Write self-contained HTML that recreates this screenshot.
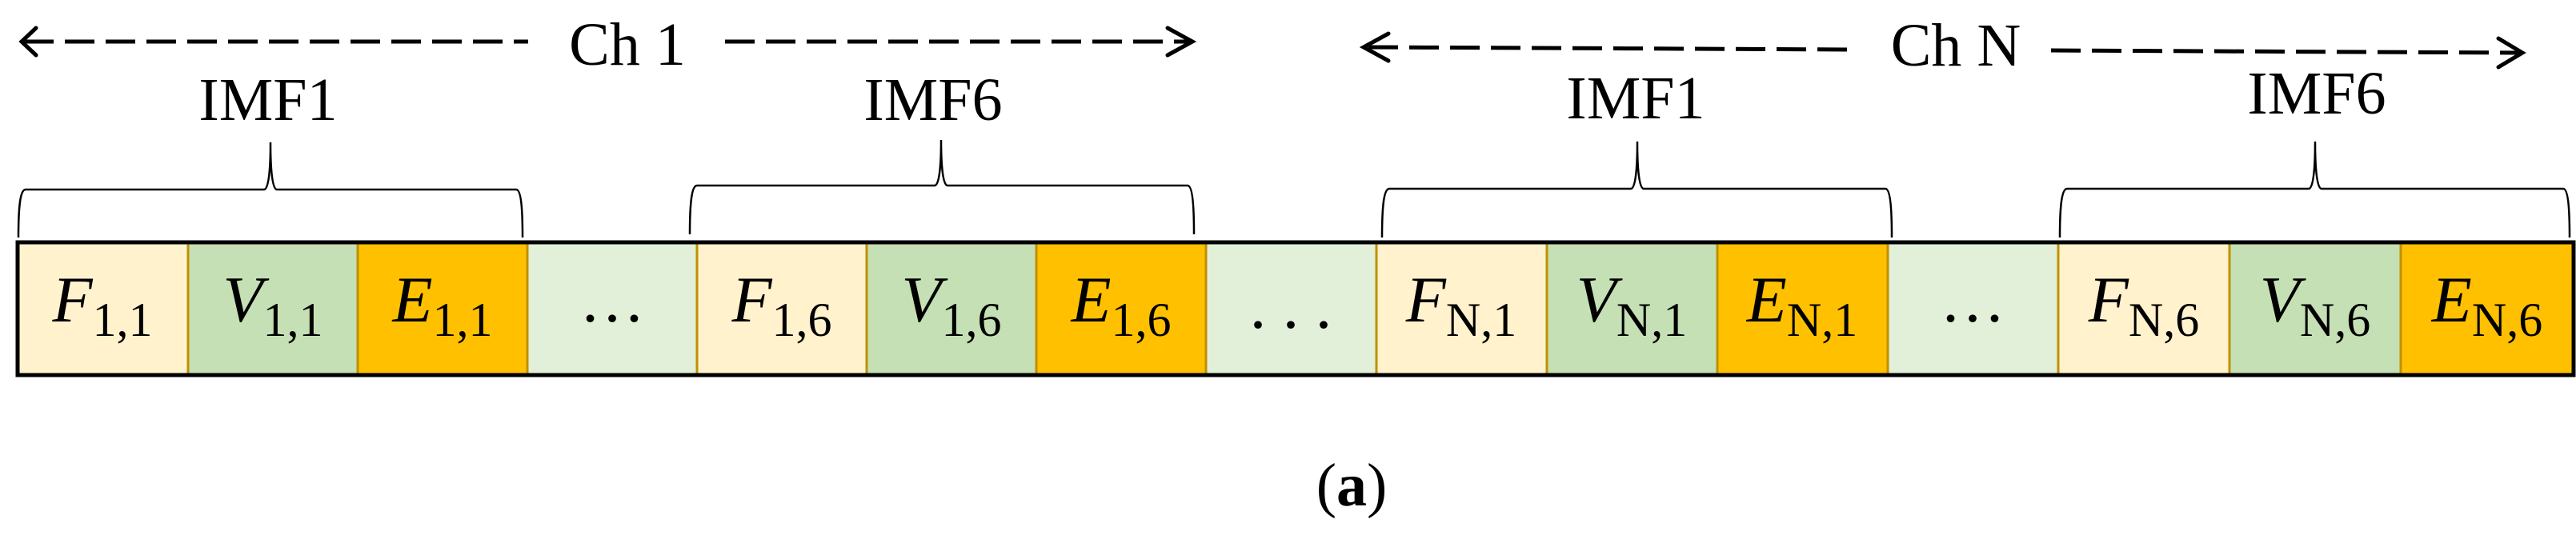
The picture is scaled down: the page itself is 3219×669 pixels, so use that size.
<!DOCTYPE html>
<html><head><meta charset="utf-8"><style>
html,body{margin:0;padding:0;background:#fff;}
svg{display:block;}
.t{font-family:"Liberation Serif",serif;fill:#000;}
</style></head><body>
<svg width="3219" height="669" viewBox="0 0 3219 669" xmlns="http://www.w3.org/2000/svg">
<g stroke="#000" stroke-width="5" fill="none">
  <line x1="30" y1="52" x2="660" y2="52" stroke-dasharray="37 14"/>
  <polyline points="45,35 27,52 45,69" stroke-linecap="round"/>
  <line x1="906" y1="52" x2="1486" y2="52" stroke-dasharray="37 14"/>
  <polyline points="1459,35 1490,52 1459,69" stroke-linecap="round"/>
  <line x1="1710" y1="59" x2="2320" y2="62" stroke-dasharray="37 14"/>
  <polyline points="1735,42 1704,59 1735,76" stroke-linecap="round"/>
  <line x1="2563" y1="63" x2="3148" y2="66" stroke-dasharray="37 14"/>
  <polyline points="3122,48 3152,66 3122,84" stroke-linecap="round"/>
</g>
<text class="t" x="784" y="81" font-size="76" text-anchor="middle">Ch 1</text>
<text class="t" x="2444" y="82" font-size="76" text-anchor="middle">Ch N</text>
<text class="t" x="335" y="150" font-size="76" text-anchor="middle">IMF1</text>
<text class="t" x="1166" y="150" font-size="76" text-anchor="middle">IMF6</text>
<text class="t" x="2044" y="148" font-size="76" text-anchor="middle">IMF1</text>
<text class="t" x="2895" y="142" font-size="76" text-anchor="middle">IMF6</text>
<g stroke="#000" stroke-width="2.5" fill="none">
  <path d="M23,297 C23,260 25,237 32,237 L330,237 C336,237 338,210 338,178 C338,210 340,237 346,237 L645,237 C651,237 653,260 653,297"/>
  <path d="M862,293 C862,256 864,232 871,232 L1168,232 C1174,232 1176,205 1176,175 C1176,205 1178,232 1184,232 L1484,232 C1490,232 1492,256 1492,293"/>
  <path d="M1727,297 C1727,260 1729,236 1736,236 L2038,236 C2044,236 2046,209 2046,177 C2046,209 2048,236 2054,236 L2356,236 C2362,236 2364,260 2364,297"/>
  <path d="M2574,297 C2574,260 2576,236 2583,236 L2885,236 C2891,236 2893,209 2893,177 C2893,209 2895,236 2901,236 L3203,236 C3209,236 3211,260 3211,297"/>
</g>
<g stroke="#BF9000" stroke-width="3">
  <rect x="22" y="303" width="213" height="166" fill="#FFF2CC"/>
  <rect x="235" y="303" width="212" height="166" fill="#C5E0B4"/>
  <rect x="447" y="303" width="212" height="166" fill="#FFC000"/>
  <rect x="659" y="303" width="212" height="166" fill="#E2F0D9"/>
  <rect x="871" y="303" width="212" height="166" fill="#FFF2CC"/>
  <rect x="1083" y="303" width="212" height="166" fill="#C5E0B4"/>
  <rect x="1295" y="303" width="212" height="166" fill="#FFC000"/>
  <rect x="1507" y="303" width="213" height="166" fill="#E2F0D9"/>
  <rect x="1720" y="303" width="213" height="166" fill="#FFF2CC"/>
  <rect x="1933" y="303" width="213" height="166" fill="#C5E0B4"/>
  <rect x="2146" y="303" width="213" height="166" fill="#FFC000"/>
  <rect x="2359" y="303" width="213" height="166" fill="#E2F0D9"/>
  <rect x="2572" y="303" width="214" height="166" fill="#FFF2CC"/>
  <rect x="2786" y="303" width="214" height="166" fill="#C5E0B4"/>
  <rect x="3000" y="303" width="216" height="166" fill="#FFC000"/>
</g>
<rect x="22" y="303" width="3194" height="166" fill="none" stroke="#000" stroke-width="5"/>
<g class="t" font-size="82" text-anchor="middle">
  <text x="128" y="402"><tspan font-style="italic">F</tspan><tspan font-size="60" dy="18">1,1</tspan></text>
  <text x="341" y="402"><tspan font-style="italic">V</tspan><tspan font-size="60" dy="18">1,1</tspan></text>
  <text x="553" y="402"><tspan font-style="italic">E</tspan><tspan font-size="60" dy="18">1,1</tspan></text>
  <text x="765" y="402">…</text>
  <text x="977" y="402"><tspan font-style="italic">F</tspan><tspan font-size="60" dy="18">1,6</tspan></text>
  <text x="1189" y="402"><tspan font-style="italic">V</tspan><tspan font-size="60" dy="18">1,6</tspan></text>
  <text x="1401" y="402"><tspan font-style="italic">E</tspan><tspan font-size="60" dy="18">1,6</tspan></text>
  <text x="1613" y="410">. . .</text>
  <text x="1826" y="402"><tspan font-style="italic">F</tspan><tspan font-size="60" dy="18">N,1</tspan></text>
  <text x="2039" y="402"><tspan font-style="italic">V</tspan><tspan font-size="60" dy="18">N,1</tspan></text>
  <text x="2252" y="402"><tspan font-style="italic">E</tspan><tspan font-size="60" dy="18">N,1</tspan></text>
  <text x="2465" y="402">…</text>
  <text x="2679" y="402"><tspan font-style="italic">F</tspan><tspan font-size="60" dy="18">N,6</tspan></text>
  <text x="2893" y="402"><tspan font-style="italic">V</tspan><tspan font-size="60" dy="18">N,6</tspan></text>
  <text x="3108" y="402"><tspan font-style="italic">E</tspan><tspan font-size="60" dy="18">N,6</tspan></text>
</g>
<text class="t" x="1689" y="632" font-size="76" text-anchor="middle">(<tspan font-weight="bold">a</tspan>)</text>
</svg>
</body></html>
